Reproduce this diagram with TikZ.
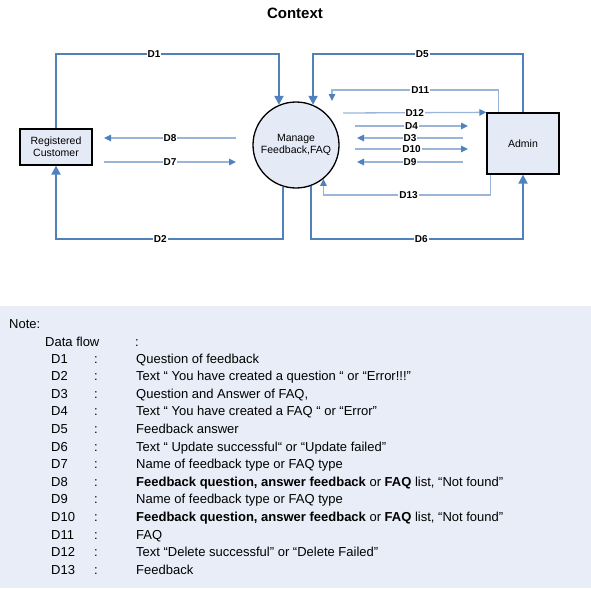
\documentclass[tikz,border=0pt]{standalone}
\usepackage{fontspec}
\setmainfont{Liberation Sans}
\usetikzlibrary{arrows.meta, calc}
\definecolor{flow}{HTML}{4F81BD}
\definecolor{flowlite}{HTML}{9BB5D8}
\definecolor{boxfill}{HTML}{E5EBF6}
\definecolor{notefill}{HTML}{E8EDF7}

\begin{document}
\begin{tikzpicture}[x=1pt, y=-1pt,
    every node/.style={font=\fontsize{10.5}{12}\selectfont},
    entity/.style={draw=black, line width=1.3pt, fill=boxfill, minimum width=72pt, align=center},
    mainflow/.style={draw=flow, line width=2pt, -{Triangle[length=9pt, width=9pt]}},
    sideflow/.style={draw=flowlite, line width=1.3pt, -{Triangle[length=7pt, width=6.5pt, color=flow]}},
    lbl/.style={fill=white, inner sep=1pt, font=\fontsize{10}{12}\bfseries\selectfont},
    notetxt/.style={anchor=base west, inner sep=0pt, font=\fontsize{13}{15}\selectfont}]

    \useasboundingbox (0,0) rectangle (591,589);

    \node[font=\fontsize{15}{18}\bfseries\selectfont] (title) at (295,13) {Context};

    \node[entity, minimum height=36pt] (cust) at (56,147) {Registered\\Customer};
    \node[draw=black, line width=1.3pt, fill=boxfill, circle, minimum size=86pt,
      align=center] (mgr) at (296,145) {Manage\\Feedback,FAQ};
    \node[entity, minimum height=61pt] (admin) at (523,143.5) {Admin};

    \coordinate (top) at (0,54);
    \coordinate (bot) at (0,239);
    \coordinate (upr) at (0,90);
    \coordinate (lwr) at (0,195);

    % Customer <-> Manage
    \draw[mainflow] (cust.north) -- (cust.north |- top)
      -- node[lbl, pos=0.44] (l1) {D1} (mgr.113 |- top) -- (mgr.113);
    \draw[mainflow] (mgr.252) -- (mgr.252 |- bot)
      -- node[lbl, pos=0.54] (l2) {D2} (cust.south |- bot) -- (cust.south);

    % Manage <-> Admin
    \draw[mainflow] (admin.north) -- (admin.north |- top)
      -- node[lbl, pos=0.48] (l5) {D5} (mgr.67 |- top) -- (mgr.67);
    \draw[mainflow] (mgr.290) -- (mgr.290 |- bot)
      -- node[lbl, pos=0.52] (l6) {D6} (admin.south |- bot) -- (admin.south);

    \coordinate (d11s) at ($(admin.north west)+(12,0)$);
    \coordinate (d11e) at (332,101);
    \draw[sideflow] (d11s) -- (d11s |- upr)
      -- node[lbl, pos=0.47] (l11) {D11} (d11e |- upr) -- (d11e);

    \coordinate (d13s) at ($(admin.south west)+(4,0)$);
    \draw[sideflow] (d13s) -- (d13s |- lwr)
      -- node[lbl, pos=0.49] (l13) {D13} (mgr.309 |- lwr) -- (mgr.309);

    \coordinate (d12s) at (343,113);
    \draw[sideflow] (d12s) -- node[lbl] (l12) {D12} (admin.north west);

    \foreach \nm/\y/\a/\b in {D4/126/355/468, D3/138/463/357, D10/149/355/468,
        D9/162/463/357, D8/138/236/104, D7/162/104/236} {
      \coordinate (s\nm) at (\a,\y);
      \coordinate (e\nm) at (\b,\y);
      \draw[sideflow] (s\nm) -- node[lbl] (l\nm) {\nm} (e\nm);
    }

    % Note panel
    \fill[notefill] (0,306) rectangle (591,588);
    \node[notetxt] (note) at (9,328) {Note:};
    \node[notetxt] (flowhd) at (45,346) {Data flow};
    \node[notetxt] (flowcol) at (135,346) {:};
    \foreach \k/\txt [count=\i] in {
        D1/{Question of feedback},
        D2/{Text “ You have created a question “ or “Error!!!”},
        D3/{Question and Answer of FAQ,},
        D4/{Text “ You have created a FAQ “ or “Error”},
        D5/{Feedback answer},
        D6/{Text “ Update successful“ or “Update failed”},
        D7/{Name of feedback type or FAQ type},
        D8/{\textbf{Feedback question, answer feedback} or \textbf{FAQ} list, “Not found”},
        D9/{Name of feedback type or FAQ type},
        D10/{\textbf{Feedback question, answer feedback} or \textbf{FAQ} list, “Not found”},
        D11/{FAQ},
        D12/{Text “Delete successful” or “Delete Failed”},
        D13/{Feedback}} {
      \node[notetxt] (k\i) at (51,345.4+17.6*\i) {\k};
      \node[notetxt] (c\i) at (94,345.4+17.6*\i) {:};
      \node[notetxt] (t\i) at (136,345.4+17.6*\i) {\txt};
    }
  \end{tikzpicture}
\end{document}
